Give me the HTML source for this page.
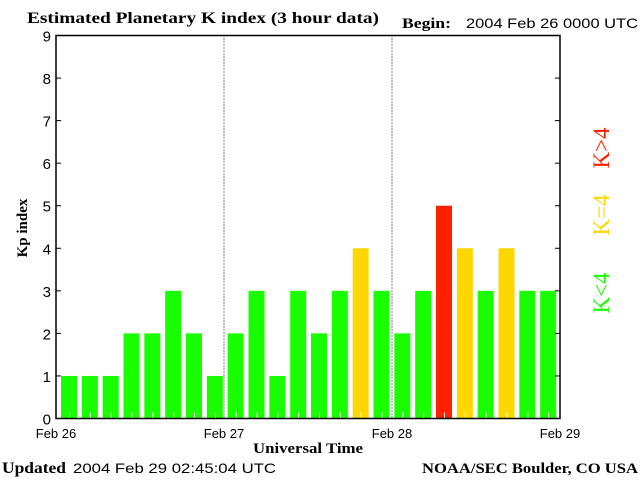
<!DOCTYPE html>
<html><head><meta charset="utf-8"><style>
body{margin:0;background:#fff;}
svg{display:block;}
</style></head><body>
<svg width="640" height="480" xmlns="http://www.w3.org/2000/svg">
<rect width="640" height="480" fill="#fff"/>
<text x="27" y="23" textLength="352" lengthAdjust="spacingAndGlyphs" font-family="Liberation Serif, serif" font-weight="bold" font-size="16">Estimated Planetary K index (3 hour data)</text>
<text x="402" y="28" textLength="49" lengthAdjust="spacingAndGlyphs" font-family="Liberation Serif, serif" font-weight="bold" font-size="15">Begin:</text>
<text x="466" y="28" textLength="172" lengthAdjust="spacingAndGlyphs" font-family="Liberation Sans, sans-serif" font-size="14">2004 Feb 26 0000 UTC</text>
<g id="plot"></g>
<text transform="translate(27,228) rotate(-90)" text-anchor="middle" font-family="Liberation Serif, serif" font-weight="bold" font-size="15">Kp index</text>
<text x="253" y="453" textLength="110" lengthAdjust="spacingAndGlyphs" font-family="Liberation Serif, serif" font-weight="bold" font-size="15">Universal Time</text>
<text x="2" y="473" textLength="64" lengthAdjust="spacingAndGlyphs" font-family="Liberation Serif, serif" font-weight="bold" font-size="16">Updated</text>
<text x="73" y="473" textLength="203" lengthAdjust="spacingAndGlyphs" font-family="Liberation Sans, sans-serif" font-size="14">2004 Feb 29 02:45:04 UTC</text>
<text x="422" y="473" textLength="216" lengthAdjust="spacingAndGlyphs" font-family="Liberation Serif, serif" font-weight="bold" font-size="15">NOAA/SEC Boulder, CO USA</text>
<text transform="translate(609,293) rotate(-90)" text-anchor="middle" fill="#1aff00" font-family="Liberation Serif, serif" font-size="23">K&lt;4</text>
<text transform="translate(609,215) rotate(-90)" text-anchor="middle" fill="#ffd700" font-family="Liberation Serif, serif" font-size="23">K=4</text>
<text transform="translate(609,148) rotate(-90)" text-anchor="middle" fill="#ff2000" font-family="Liberation Serif, serif" font-size="23">K&gt;4</text>
</svg>
<script>
const kpValues=[1,1,1,2,2,3,2,1, 2,3,1,3,2,3,4,3, 2,3,5,4,3,4,3,3];
const yTicks=[0,1,2,3,4,5,6,7,8,9];
const dayLabels=["Feb 26","Feb 27","Feb 28","Feb 29"];
const X0=56,X1=560,Y0=418.5,Y9=35.5;
const ns="http://www.w3.org/2000/svg";
const g=document.getElementById('plot');
function y(v){return Y0-(Y0-Y9)*v/9;}
function xi(i){return X0+5+500*i/kpValues.length;}
function mk(t,a){const e=document.createElementNS(ns,t);for(const k in a)e.setAttribute(k,a[k]);g.appendChild(e);return e;}
kpValues.forEach((v,i)=>{
 const c=v>4?'#ff2000':(v==4?'#ffd700':'#1aff00');
 const r=mk('rect',{x:xi(i),y:y(v),width:16,height:Y0-y(v),fill:c});
 
 
 const t=mk('line',{x1:xi(i)+8.5,x2:xi(i)+8.5,y1:Y0-6,y2:Y0,stroke:'#fff','stroke-width':1});
 
 
});
for(let d=1;d<dayLabels.length-1;d++){
 const xx=X0+(X1-X0)*d/(dayLabels.length-1);
 const l=mk('line',{x1:xx,x2:xx,y1:Y9,y2:Y0,stroke:'#000','stroke-dasharray':'1,2'});
 
 
}
const fr=mk('rect',{x:X0,y:Y9,width:X1-X0,height:Y0-Y9,fill:'none',stroke:'#000','stroke-width':1.5});


yTicks.forEach(v=>{
 const t=mk('text',{x:X0-5,y:y(v)+6,'text-anchor':'end','font-family':'Liberation Sans, sans-serif','font-size':15});
 t.textContent=v;
 
 
 mk('line',{x1:X0,x2:X0+5,y1:y(v),y2:y(v),stroke:'#000'});
 mk('line',{x1:X1-5,x2:X1,y1:y(v),y2:y(v),stroke:'#000'});
});
dayLabels.forEach((d,i)=>{
 const xx=X0+(X1-X0)*i/(dayLabels.length-1);
 const t=mk('text',{x:xx,y:438,'text-anchor':'middle','font-family':'Liberation Sans, sans-serif','font-size':13});
 t.textContent=d;
 
 
});
</script>
</body></html>
